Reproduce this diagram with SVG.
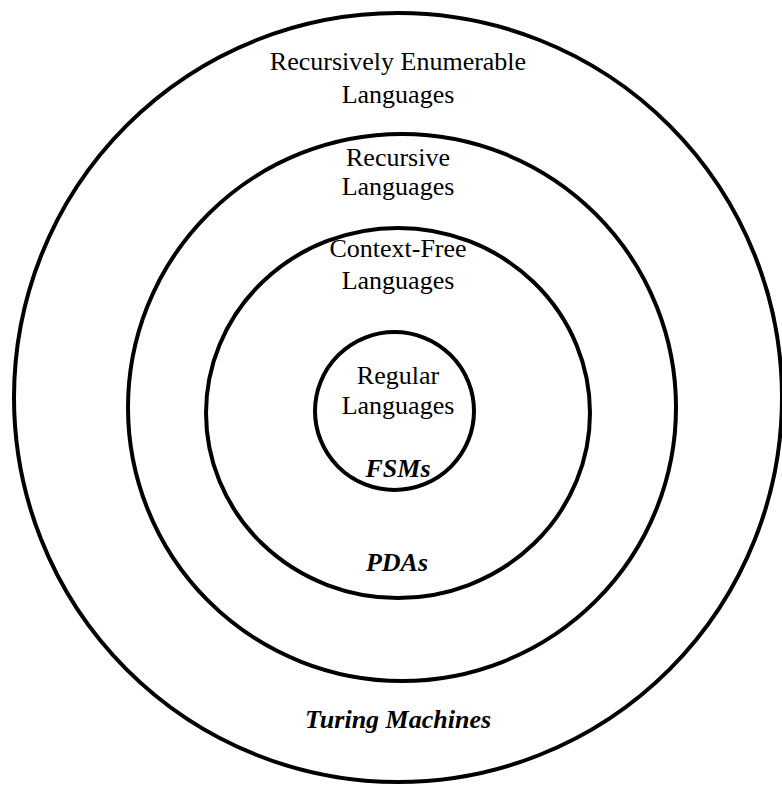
<svg xmlns="http://www.w3.org/2000/svg" width="782" height="786" viewBox="0 0 782 786">
  <style>
    .ring { fill: none; stroke: #000; stroke-width: 4; }
    .lang { font-family: "Liberation Serif", "Times New Roman", serif; font-size: 26px; fill: #000; text-anchor: middle; }
    .machine { font-family: "Liberation Serif", "Times New Roman", serif; font-size: 26px; font-weight: bold; font-style: italic; fill: #000; text-anchor: middle; }
  </style>
  <rect width="782" height="786" fill="#fff"/>

  <g id="recursively-enumerable">
    <ellipse class="ring" cx="398" cy="397.5" rx="384" ry="384.5"/>
    <text class="lang" x="398" y="70">Recursively Enumerable</text>
    <text class="lang" x="398" y="103">Languages</text>
    <text class="machine" x="398" y="728">Turing Machines</text>
  </g>

  <g id="recursive">
    <ellipse class="ring" cx="402" cy="407.5" rx="274" ry="273.5"/>
    <text class="lang" x="398" y="166">Recursive</text>
    <text class="lang" x="398" y="195">Languages</text>
  </g>

  <g id="context-free">
    <ellipse class="ring" cx="398" cy="413" rx="192" ry="185"/>
    <text class="lang" x="398" y="257">Context-Free</text>
    <text class="lang" x="398" y="289">Languages</text>
    <text class="machine" x="397" y="571">PDAs</text>
  </g>

  <g id="regular">
    <ellipse class="ring" cx="394.5" cy="411" rx="79.5" ry="79"/>
    <text class="lang" x="398" y="384">Regular</text>
    <text class="lang" x="398" y="414">Languages</text>
    <text class="machine" x="398" y="477">FSMs</text>
  </g>

  <g id="connectors"/>
</svg>
